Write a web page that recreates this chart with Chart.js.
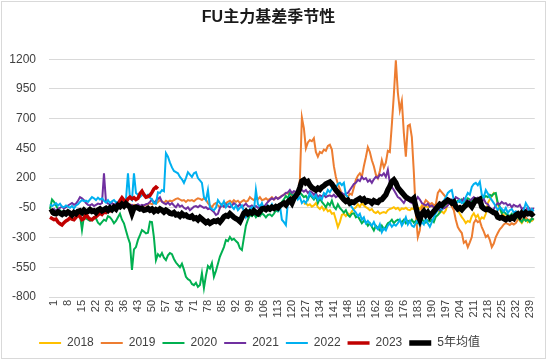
<!DOCTYPE html>
<html>
<head>
<meta charset="utf-8">
<script src="https://cdn.jsdelivr.net/npm/chart.js@4.4.0/dist/chart.umd.min.js"></script>
<style>
  html, body { margin: 0; padding: 0; background: #fff; }
</style>
</head>
<body>
<canvas id="basisChart" width="550" height="361"></canvas>
<script>
// trading day index 1..243
const categories = Array.from({ length: 243 }, (_, i) => String(i + 1));
const xTickLabels = ['1','8','15','22','29','36','43','50','57','64','71','78','85','92','99','106','113','120',
  '127','134','141','148','155','162','169','176','183','190','197','204','211','218','225','232','239'];
const yTicks = [-800, -550, -300, -50, 200, 450, 700, 950, 1200];

// 2018 starts at day 128
const y2018Start = 128;
const y2018 = [
  -20,-10,-30,-20,-40,-30,-10,-45,-60,-40,
  -70,-50,-80,-70,-100,-94,-150,-212,-170,-110,
  -100,-120,-95,-110,-80,-60,-45,-20,-40,-10,
  -30,-45,-55,-70,-60,-85,-94,-80,-100,-90,
  -85,-94,-70,-60,-55,-45,-60,-50,-70,-55,
  -60,-50,-65,-70,-55,-60,-70,-45,-60,-30,
  -50,-35,-45,-30,-40,-25,-40,-70,-90,-80,
  -95,-70,-10,15,0,10,-40,-70,-100,-128,
  -150,-178,-160,-170,-120,-95,-130,-110,-153,-130,
  -140,-100,-10,20,50,75,60,-20,-60,-95,
  -110,-128,-140,-153,-130,-150,-140,-128,-160,-178,
  -150,-140,-170,-150,-160,-140
];

const y2019 = [
  -90,-85,-95,-80,-90,-85,-95,-90,-80,-85,
  -90,-95,-85,-80,-90,-75,-70,-80,-75,-70,
  -75,-80,-70,-65,-75,-70,-60,-65,-55,-60,
  -55,-60,-50,-45,-35,-30,-25,-30,-20,-25,
  -20,-30,-25,-35,-30,-40,-30,-35,-25,-20,
  -10,-20,-5,-15,0,15,5,-10,10,0,
  10,5,15,25,30,20,10,15,0,15,
  10,15,5,20,30,25,15,30,20,-10,
  -30,-45,-20,-10,-30,-45,-20,-40,-10,0,
  10,-5,15,0,10,-10,5,15,0,10,
  40,25,15,30,20,40,15,20,30,15,
  25,40,20,35,30,40,50,60,75,70,
  60,40,75,50,70,185,710,620,450,500,
  520,510,535,420,380,420,410,440,430,470,
  480,440,300,210,150,110,70,50,60,40,
  70,60,120,185,220,240,210,300,375,460,
  420,350,300,230,200,260,350,290,330,430,
  420,650,900,1190,920,770,850,580,380,640,
  650,545,250,-100,-296,-240,-50,-20,15,0,
  -20,-10,-30,-20,75,100,80,60,40,20,
  -10,-40,-70,-150,-212,-240,-262,-345,-330,-380,
  -340,-296,-178,-150,-170,-160,-212,-250,-296,-280,
  -320,-380,-350,-296,-262,-230,-212,-190,-178,-185,
  -195,-180,-190,-178,-150,-128,-153,-140,-130,-150,
  -160,-140,-150
];

const y2020 = [
  -60,20,0,-30,-60,-70,-90,-85,-80,-95,
  -110,-100,-90,-100,-120,-110,-237,-120,-140,-150,
  -160,-150,-130,-140,-175,-190,-170,-150,-160,-120,
  -130,-150,-180,-160,-130,-100,-150,-180,-240,-300,
  -350,-573,-400,-380,-320,-280,-237,-250,-265,-260,
  -167,-170,-300,-490,-440,-460,-430,-470,-490,-450,
  -430,-440,-480,-510,-530,-550,-520,-570,-630,-650,
  -660,-690,-700,-680,-715,-700,-600,-725,-620,-540,
  -560,-515,-630,-580,-520,-460,-420,-380,-320,-330,
  -295,-320,-310,-330,-345,-390,-405,-300,-200,-150,
  -110,-120,-100,-130,-110,-120,-95,-110,-130,-110,
  -105,-120,-100,-70,-80,-60,0,20,50,30,
  75,60,40,75,100,80,60,40,50,20,
  60,40,20,50,-10,30,0,-20,-45,-10,
  -30,10,-40,-60,-20,-50,-70,-90,-70,-110,
  -125,-100,-95,-130,-120,-150,-180,-160,-170,-200,
  -180,-210,-240,-200,-220,-240,-200,-230,-210,-180,
  -170,-150,-180,-160,-150,-160,-170,-150,-180,-160,
  -170,-150,-175,-160,-180,-170,-150,-160,-175,-155,
  -165,-150,-170,-125,-110,-90,-60,-40,-20,10,
  -10,0,15,-5,10,0,20,-10,10,30,
  20,0,25,10,30,20,40,30,50,40,
  60,50,70,75,-10,-40,-95,-80,-100,-110,
  -120,-100,-130,-140,-125,-150,-170,-140,-160,-150,
  -170,-140,-150
];

const y2021 = [
  -80,-70,-60,-75,-60,-50,-40,-55,-45,-30,
  -20,-10,-25,-15,10,40,30,15,-10,-25,
  -30,-20,-35,-25,-15,-20,-10,240,0,-15,
  -20,-10,-25,-15,-20,-30,-25,-30,-20,-35,
  -30,-25,-40,-30,-20,-35,-25,-30,-20,-15,
  0,20,-10,10,25,40,0,-10,-20,-5,
  -25,-10,-30,-45,-20,-40,-30,-50,-60,-45,
  -70,-55,-40,-35,-45,-30,-40,-50,-45,-60,
  -55,-70,-85,-110,-100,-50,-30,-40,-20,-35,
  -45,-30,-10,-25,-40,-20,-45,-30,-15,-35,
  -40,-30,-45,-35,-50,-40,-30,-45,-20,0,
  15,30,20,40,25,35,50,60,75,80,
  100,75,90,85,70,90,100,85,100,75,
  90,80,60,75,40,55,45,60,40,50,
  55,45,60,40,50,60,75,60,70,75,
  100,125,150,160,185,175,210,190,200,170,
  185,160,190,210,200,230,220,240,210,270,
  160,125,100,70,40,30,10,-10,20,40,
  0,-10,30,10,40,20,-10,-20,-30,-15,
  -40,-30,-45,-50,-45,-70,-60,-55,-45,-30,
  0,20,10,40,30,20,0,30,15,-10,
  10,25,40,20,35,10,0,25,-10,-20,
  -50,-85,-60,-30,-10,-20,0,-15,-10,-30,
  -20,-45,-25,-35,-40,-25,-60,-50,-85,-40,
  -60,-70,-50
];

const y2022 = [
  -20,-35,-25,-10,-30,-15,-40,-45,-30,-40,
  -50,-35,-55,-30,-20,0,15,5,10,0,
  20,40,30,15,35,20,30,10,-5,15,
  -10,5,15,-5,0,-10,5,-5,20,240,
  30,15,240,75,60,40,55,70,45,60,
  35,20,-10,-15,80,75,100,90,410,380,
  330,290,260,250,240,210,190,160,200,250,
  230,210,240,250,200,180,160,40,15,100,
  -45,-60,-70,-50,15,-10,-30,5,-45,-20,
  -10,-40,-60,-30,-70,-50,-30,-80,-130,-100,
  -60,-45,-80,100,-20,-40,-10,-60,-70,-30,
  -50,-20,-60,-40,-70,-30,-150,-170,-195,0,
  40,15,60,75,20,40,-10,10,-10,30,
  75,50,30,60,15,40,20,75,60,100,
  80,110,130,120,150,160,140,160,60,40,
  -20,-45,-70,-90,-120,-100,-150,-130,-180,-160,
  -180,-200,-170,-210,-230,-190,-255,-220,-240,-200,
  -180,-210,-190,-200,-180,-150,-200,-170,-130,-190,
  -160,-200,-210,-180,-150,-200,-170,-190,-140,-180,
  -210,-170,-130,-95,-70,-40,-60,10,40,75,
  90,100,15,-10,0,15,-10,0,40,75,
  60,125,150,160,140,170,60,40,100,70,
  40,15,-10,-40,-70,-45,-60,-80,-50,-95,
  -70,-60,-90,-80,-100,-128,-110,-70,-10,-40,
  -95,-60,-80
];

// 2023 only has the first 55 days
const y2023 = [
  -130,-140,-150,-145,-170,-185,-195,-175,-160,-150,
  -135,-145,-150,-130,-110,-125,-150,-140,-100,-130,
  -145,-150,-135,-125,-110,-95,-105,-85,-90,-70,
  -75,-60,-55,-40,-20,10,35,15,-5,25,
  40,25,35,20,30,70,90,60,40,45,
  55,80,110,125,110
];

const avg5y = [
  -90,-80,-95,-100,-85,-95,-105,-90,-100,-85,
  -95,-110,-90,-100,-80,-75,-90,-70,-85,-80,
  -65,-80,-75,-90,-70,-60,-75,-65,-55,-70,
  -50,-65,-45,-60,-30,-40,-20,-35,-15,-30,
  -45,-95,-50,-45,-50,-60,-55,-70,-65,-55,
  -70,-60,-80,-65,-75,-60,-70,-85,-70,-80,
  -95,-100,-90,-110,-105,-120,-100,-115,-110,-125,
  -130,-120,-140,-135,-150,-130,-145,-160,-175,-165,
  -180,-170,-160,-165,-155,-170,-150,-125,-115,-120,
  -100,-115,-130,-140,-150,-165,-130,-95,-80,-100,
  -85,-95,-75,-90,-100,-80,-60,-55,-65,-50,
  -60,-45,-55,-40,-50,-30,-20,-10,-25,0,
  15,-10,30,50,75,120,175,185,160,170,
  140,120,110,100,115,105,125,135,150,160,
  167,150,125,100,80,60,40,20,5,15,
  -10,0,-5,10,20,30,15,25,0,10,
  5,-10,10,0,-5,15,20,40,60,100,
  130,170,185,160,120,100,80,60,40,30,
  20,15,30,-44,-110,-150,-100,-80,-110,-90,
  -120,-100,-80,-60,-40,-20,-30,-10,0,15,
  5,-10,0,-40,-60,-50,-65,-45,-30,-10,
  -20,-40,-10,15,10,20,-40,-55,-65,-60,
  -70,-80,-90,-94,-128,-136,-130,-140,-150,-135,
  -145,-130,-140,-110,-100,-120,-95,-110,-90,-100,
  -95,-105,-90
];

const seriesNames = ['2018', '2019', '2020', '2021', '2022', '2023', '5年均值'];
const seriesData = [
  new Array(y2018Start - 1).fill(null).concat(y2018),
  y2019, y2020, y2021, y2022, y2023, avg5y
];
const seriesColors = ['#FFC000', '#ED7D31', '#00B050', '#7030A0', '#00B0F0', '#C00000', '#000000'];
const seriesWidths = [2, 2, 2, 2, 2, 3.5, 5.5];

Chart.defaults.font.family = "'Liberation Sans', 'Noto Sans CJK SC', sans-serif";
Chart.defaults.color = '#404040';

const datasets = seriesNames.map((name, i) => ({
  label: name,
  data: seriesData[i],
  borderColor: seriesColors[i],
  backgroundColor: seriesColors[i],
  borderWidth: seriesWidths[i],
  pointBorderColor: seriesColors[i],
  pointBorderWidth: seriesWidths[i],
  pointRadius: 0,
  tension: 0,
  fill: false,
  spanGaps: false,
  // later series sit on top, like the excel original
  order: seriesNames.length - 1 - i
}));

// white background, thin outer frame, legend nudged left a bit
const framePlugin = {
  id: 'frame',
  afterLayout(chart) {
    if (chart.legend) {
      chart.legend.left -= 9;
      chart.legend.right -= 9;
    }
  },
  beforeDraw(chart) {
    const ctx = chart.ctx;
    ctx.save();
    ctx.fillStyle = '#ffffff';
    ctx.fillRect(0, 0, chart.width, chart.height);
    ctx.restore();
  },
  afterDraw(chart) {
    const ctx = chart.ctx;
    ctx.save();
    ctx.strokeStyle = '#d9d9d9';
    ctx.lineWidth = 1;
    ctx.strokeRect(1.5, 1.5, 544, 357);
    ctx.restore();
  }
};

const ctx = document.getElementById('basisChart').getContext('2d');
const basisChart = new Chart(ctx, {
  type: 'line',
  data: { labels: categories, datasets: datasets },
  plugins: [framePlugin],
  options: {
    responsive: false,
    animation: false,
    layout: { padding: { left: 0, right: 13, top: 0, bottom: 2 } },
    plugins: {
      title: {
        display: true,
        text: 'FU主力基差季节性',
        color: '#1a1a1a',
        font: { size: 16, weight: 'bold' },
        padding: { top: 8, bottom: 32 }
      },
      legend: {
        position: 'bottom',
        labels: {
          usePointStyle: true,
          pointStyle: 'line',
          pointStyleWidth: 22,
          padding: 7,
          color: '#404040',
          font: { size: 12 },
          sort: (a, b) => a.datasetIndex - b.datasetIndex
        }
      },
      tooltip: { enabled: false }
    },
    scales: {
      x: {
        type: 'category',
        offset: true,
        grid: { display: false, drawTicks: false },
        border: { display: false },
        ticks: {
          autoSkip: false,
          minRotation: 90,
          maxRotation: 90,
          padding: 3,
          labelOffset: 4,
          font: { size: 11 },
          callback: function(value) {
            const lab = this.getLabelForValue(value);
            return xTickLabels.includes(lab) ? lab : '';
          }
        },
        afterFit: function(scale) { scale.height = 33; }
      },
      y: {
        min: yTicks[0],
        max: yTicks[yTicks.length - 1],
        afterBuildTicks: function(scale) {
          scale.ticks = yTicks.map(v => ({ value: v }));
        },
        grid: { color: '#d9d9d9', drawTicks: false },
        border: { display: false },
        ticks: {
          padding: 13,
          font: { size: 12 },
          callback: v => String(v)
        },
        afterFit: function(scale) { scale.width = 49; }
      }
    }
  }
});
</script>
</body>
</html>
